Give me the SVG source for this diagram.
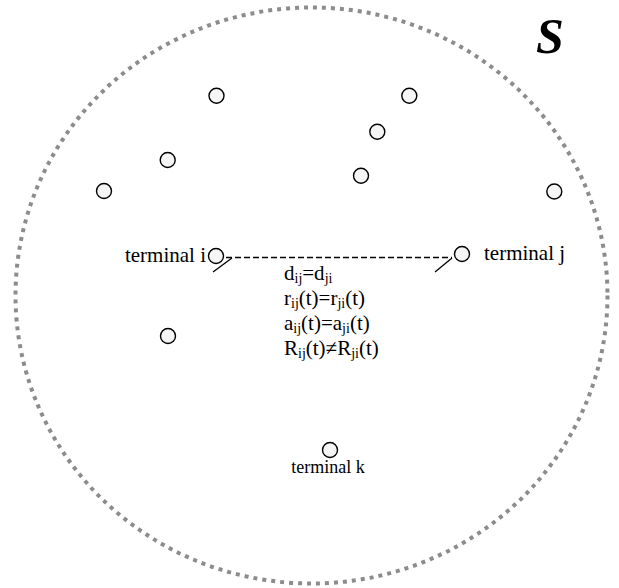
<svg xmlns="http://www.w3.org/2000/svg" width="619" height="588" viewBox="0 0 619 588">
  <style>
    .node { fill: #f5f5f5; stroke: #000; stroke-width: 1.4; }
    .lbl { font-family: "Liberation Serif", "Times New Roman", serif; font-size: 21px; fill: #000; }
    .lbl-s { font-size: 18px; }
    .eq { font-family: "Liberation Serif", "Times New Roman", serif; font-size: 21px; fill: #000; }
    .sub { font-size: 14px; }
    .link { stroke: #000; stroke-width: 1.3; fill: none; }
  </style>
  <rect width="619" height="588" fill="#fff"/>

  <!-- region boundary S -->
  <ellipse cx="311.5" cy="295.5" rx="296" ry="288" fill="none" stroke="#8c8c8c" stroke-width="4" stroke-dasharray="4 5"/>
  <text x="536" y="53" font-family="Liberation Serif, Times New Roman, serif" font-size="50" font-weight="bold" font-style="italic">S</text>

  <!-- connectors -->
  <g id="connectors">
    <line class="link" x1="226" y1="257.5" x2="452" y2="257.5" stroke-dasharray="6 3"/>
    <line class="link" x1="213" y1="272" x2="232" y2="258"/>
    <line class="link" x1="435" y1="272" x2="452" y2="258"/>
  </g>

  <!-- terminals -->
  <g id="n1"><circle class="node" cx="216.5" cy="95.7" r="7.5"/></g>
  <g id="n2"><circle class="node" cx="409.3" cy="95.7" r="7.5"/></g>
  <g id="n3"><circle class="node" cx="377.3" cy="131.7" r="7.5"/></g>
  <g id="n4"><circle class="node" cx="167.7" cy="160" r="7.5"/></g>
  <g id="n5"><circle class="node" cx="361" cy="175.7" r="7.5"/></g>
  <g id="n6"><circle class="node" cx="104" cy="191" r="7.5"/></g>
  <g id="n7"><circle class="node" cx="554.3" cy="191.5" r="7.5"/></g>
  <g id="terminal-i">
    <circle class="node" cx="216" cy="256" r="7.5"/>
    <text class="lbl" x="206" y="262" text-anchor="end">terminal i</text>
  </g>
  <g id="terminal-j">
    <circle class="node" cx="462" cy="254" r="7.5"/>
    <text class="lbl" x="484" y="260">terminal j</text>
  </g>
  <g id="n8"><circle class="node" cx="168" cy="336" r="7.5"/></g>
  <g id="terminal-k">
    <circle class="node" cx="330" cy="450" r="7.5"/>
    <text class="lbl lbl-s" x="328" y="473" text-anchor="middle">terminal k</text>
  </g>

  <!-- link relations -->
  <g id="relations" class="eq">
    <text x="284" y="280">d<tspan class="sub" dy="3">ij</tspan><tspan dy="-3">=d</tspan><tspan class="sub" dy="3">ji</tspan></text>
    <text x="284" y="305">r<tspan class="sub" dy="3">ij</tspan><tspan dy="-3">(t)=r</tspan><tspan class="sub" dy="3">ji</tspan><tspan dy="-3">(t)</tspan></text>
    <text x="284" y="330">a<tspan class="sub" dy="3">ij</tspan><tspan dy="-3">(t)=a</tspan><tspan class="sub" dy="3">ji</tspan><tspan dy="-3">(t)</tspan></text>
    <text x="284" y="355">R<tspan class="sub" dy="3">ij</tspan><tspan dy="-3">(t)≠R</tspan><tspan class="sub" dy="3">ji</tspan><tspan dy="-3">(t)</tspan></text>
  </g>
</svg>
